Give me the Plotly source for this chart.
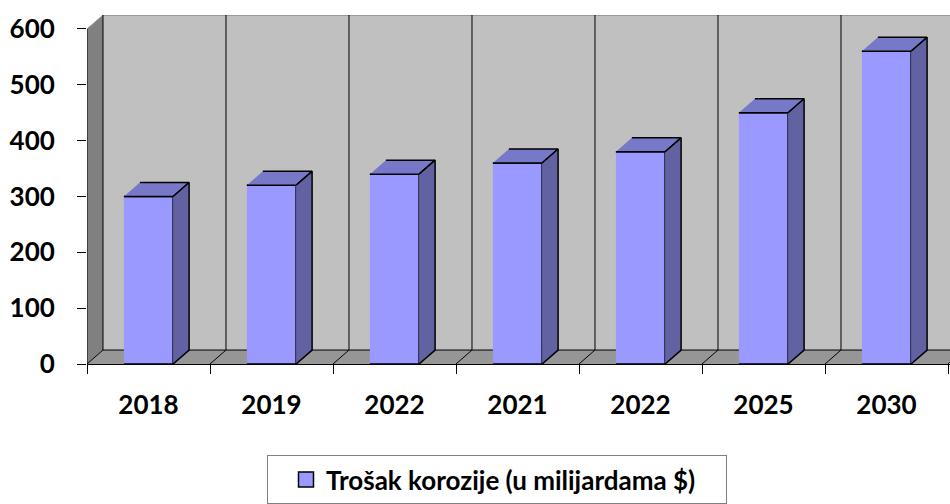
import plotly.graph_objects as go

categories = ["2018", "2019", "2022", "2021", "2022", "2025", "2030"]
values = [300, 320, 340, 360, 380, 450, 560]
y_ticks = [0, 100, 200, 300, 400, 500, 600]
series_name = "Trošak korozije (u milijardama $)"

FRONT = "#9999ff"
TOP = "#7878c8"
SIDE = "#6262a3"
WALL = "#c0c0c0"
SIDEWALL = "#808080"
FLOOR = "#969696"

DX = 0.13   # depth offset in category units
DY = 25     # depth offset in value units
HALF = 0.2  # half bar width in category units

n = len(categories)
xs = list(range(n))
x0, x1 = -0.5, n - 0.5
ytop = max(y_ticks) + DY
xr_max = x0 + 863 / 123.0
bounds = [x0 + i for i in range(n + 1)]

fig = go.Figure()


def poly(xx, yy, fill, lc="black", lw=0):
    fig.add_trace(go.Scatter(
        x=xx, y=yy, mode="lines", fill="toself", fillcolor=fill,
        line=dict(color=lc, width=lw), hoverinfo="skip", showlegend=False))


def lines(xx, yy, color="black", width=1):
    fig.add_trace(go.Scatter(
        x=xx, y=yy, mode="lines", line=dict(color=color, width=width),
        hoverinfo="skip", showlegend=False, connectgaps=False))


# back wall
poly([x0 + DX, x1 + 1, x1 + 1, x0 + DX], [DY, DY, ytop, ytop], WALL)
# side wall
poly([x0, x0, x0 + DX, x0 + DX], [0, max(y_ticks), ytop, DY], SIDEWALL)
# floor
poly([x0, x1, x1 + DX, x0 + DX], [0, 0, DY, DY], FLOOR)

# wall top edge
lines([x0 + DX, x1 + 1], [ytop, ytop], "#999999", 2)
# side wall top edge
lines([x0, x0 + DX], [max(y_ticks), ytop], "#999999", 1)

# grid lines on back wall and floor
gx, gy = [], []
for b in bounds:
    gx += [b + DX, b + DX, None]
    gy += [DY, ytop, None]
    gx += [b, b + DX, None]
    gy += [0, DY, None]
gx += [x0 + DX, x1 + 1, None]
gy += [DY, DY, None]
gx += [x0, x0, None]
gy += [0, max(y_ticks), None]
lines(gx, gy, "black", 1)

# 3D bars
for x, v in zip(xs, values):
    l, r = x - HALF, x + HALF
    poly([l, r, r, l], [0, 0, v, v], FRONT, "black", 1.5)
    poly([l, r, r + DX, l + DX], [v, v, v + DY, v + DY], TOP, "black", 1.5)
    poly([r, r + DX, r + DX, r], [0, DY, v + DY, v], SIDE, "black", 1.5)

# legend entry
fig.add_trace(go.Scatter(
    x=[None], y=[None], mode="markers", name=series_name,
    marker=dict(symbol="square", size=15, color=FRONT,
                line=dict(color="black", width=1.5)),
    showlegend=True))

font = dict(family="Lato", size=26, color="black", weight="bold")

fig.update_layout(
    width=950, height=504,
    margin=dict(l=87, r=0, t=15, b=140),
    paper_bgcolor="white", plot_bgcolor="white",
    showlegend=True,
    xaxis=dict(
        range=[x0, xr_max], tickmode="array", tickvals=xs, ticktext=categories,
        ticks="", showgrid=False, zeroline=False, automargin=False,
        showline=True, linecolor="black", linewidth=1,
        tickfont=font, ticklabelstandoff=18,
        minor=dict(tickmode="array", tickvals=bounds, ticks="outside",
                   ticklen=9, tickcolor="black", tickwidth=1, showgrid=False),
        fixedrange=True,
    ),
    yaxis=dict(
        range=[0, ytop], tickmode="array", tickvals=y_ticks,
        ticks="outside", ticklen=9, tickcolor="black", tickwidth=1,
        showgrid=False, zeroline=False, showline=False, automargin=False,
        tickfont=font, ticklabelstandoff=17, fixedrange=True,
    ),
    legend=dict(
        orientation="h", xref="paper", yref="paper",
        x=(267 - 87) / 863, xanchor="left",
        y=(364 - 455) / 349, yanchor="top",
        bordercolor="#808080", borderwidth=1, bgcolor="white",
        indentation=18, entrywidth=395, entrywidthmode="pixels",
        font=dict(family="Lato", size=26, color="black", weight="bold"),
    ),
)

fig.write_html(
    "out.html",
    config={"displayModeBar": False, "staticPlot": True},
    post_script="document.body.style.margin='0';document.body.style.overflow='hidden';",
)
